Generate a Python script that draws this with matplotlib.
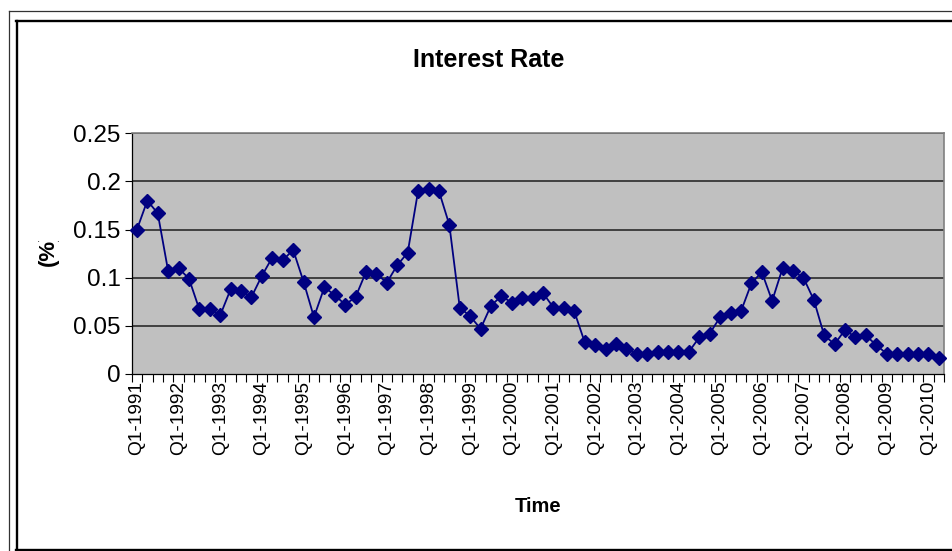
import matplotlib
matplotlib.use("Agg")
import matplotlib.pyplot as plt
from matplotlib.lines import Line2D
from matplotlib.transforms import Bbox, TransformedBbox
import numpy as np

plt.rcParams['font.family'] = ['Liberation Sans', 'DejaVu Sans']

rates = [0.150, 0.180, 0.167, 0.107, 0.110, 0.099, 0.067, 0.068, 0.061, 0.088,
         0.086, 0.080, 0.102, 0.121, 0.118, 0.129, 0.096, 0.059, 0.090, 0.082,
         0.072, 0.080, 0.106, 0.104, 0.095, 0.113, 0.126, 0.190, 0.192, 0.190,
         0.155, 0.069, 0.060, 0.047, 0.071, 0.081, 0.074, 0.079, 0.079, 0.084,
         0.069, 0.069, 0.065, 0.033, 0.030, 0.026, 0.031, 0.026, 0.021, 0.021,
         0.023, 0.023, 0.023, 0.023, 0.038, 0.042, 0.059, 0.063, 0.065, 0.094,
         0.106, 0.076, 0.110, 0.107, 0.100, 0.077, 0.040, 0.031, 0.046, 0.038,
         0.040, 0.030, 0.021, 0.021, 0.021, 0.021, 0.021, 0.017]
year_labels = ['Q1-1991', 'Q1-1992', 'Q1-1993', 'Q1-1994', 'Q1-1995', 'Q1-1996',
               'Q1-1997', 'Q1-1998', 'Q1-1999', 'Q1-2000', 'Q1-2001', 'Q1-2002',
               'Q1-2003', 'Q1-2004', 'Q1-2005', 'Q1-2006', 'Q1-2007', 'Q1-2008',
               'Q1-2009', 'Q1-2010']
y_ticks = [0, 0.05, 0.1, 0.15, 0.2, 0.25]
y_tick_labels = ['0', '0.05', '0.1', '0.15', '0.2', '0.25']

W, H = 952, 551
fig = plt.figure(figsize=(W / 100, H / 100), dpi=100)
fig.patch.set_facecolor('white')

def fx(px):
    return px / W

def fy(py):
    return 1 - py / H

# outer frames
fig.add_artist(Line2D([fx(8.5), fx(8.5)], [fy(11), fy(560)], color='#333333', lw=0.9, transform=fig.transFigure))
fig.add_artist(Line2D([fx(8.5), fx(960)], [fy(11), fy(11)], color='#333333', lw=0.9, transform=fig.transFigure))
fig.add_artist(Line2D([fx(17), fx(17)], [fy(20.5), fy(549.5)], color='black', lw=1.7, transform=fig.transFigure))
fig.add_artist(Line2D([fx(16.4), fx(960)], [fy(20.5), fy(20.5)], color='black', lw=1.7, transform=fig.transFigure))
fig.add_artist(Line2D([fx(16.4), fx(960)], [fy(549.5), fy(549.5)], color='black', lw=1.7, transform=fig.transFigure))

left, right, top, bottom = 131.7, 944, 133.3, 374
ax = fig.add_axes([fx(left), fy(bottom), fx(right - left), (bottom - top) / H])
ax.set_facecolor('#C0C0C0')

x = np.arange(len(rates))
ax.plot(x, rates, color='#000080', lw=1.3, marker='D', markersize=7,
        markerfacecolor='#000080', markeredgecolor='#000080', zorder=3, clip_on=False)

ax.set_xlim(-0.5, len(rates) - 0.5)
ax.set_ylim(0, 0.25)
ax.set_yticks(y_ticks)
ax.set_yticklabels(y_tick_labels, fontsize=17.5)
for yv in y_ticks[1:]:
    ax.axhline(yv, color='#404040', lw=1.4, zorder=1)

ax.set_xticks(np.arange(0, len(rates), 4))
ax.set_xticklabels(year_labels, rotation=90, fontsize=13.8)
ax.set_xticks(np.arange(-0.5, len(rates), 1), minor=True)
ax.tick_params(axis='x', which='major', length=0, pad=5)
ax.tick_params(axis='x', which='minor', length=6, width=0.8, direction='out', color='black')
ax.tick_params(axis='y', length=5, width=0.8, direction='out', pad=3)

for s in ['top', 'right']:
    ax.spines[s].set_color('#808080')
    ax.spines[s].set_linewidth(1.2)
ax.spines['left'].set_color('black')
ax.spines['bottom'].set_color('black')
ax.spines['left'].set_linewidth(0.9)
ax.spines['bottom'].set_linewidth(0.9)

fig.text(fx(489), fy(60), 'Interest Rate', ha='center', va='center', fontsize=18,
         fontweight='bold')
fig.text(fx(538), fy(507), 'Time', ha='center', va='center', fontsize=14.5,
         fontweight='bold')
t = fig.text(fx(48), fy(249), '(%)', ha='center', va='center', fontsize=16,
             fontweight='bold', rotation=90)
t.set_clip_box(TransformedBbox(Bbox([[0, fy(300)], [1, fy(241)]]), fig.transFigure))
t.set_clip_on(True)

fig.savefig('out.png', dpi=100)
